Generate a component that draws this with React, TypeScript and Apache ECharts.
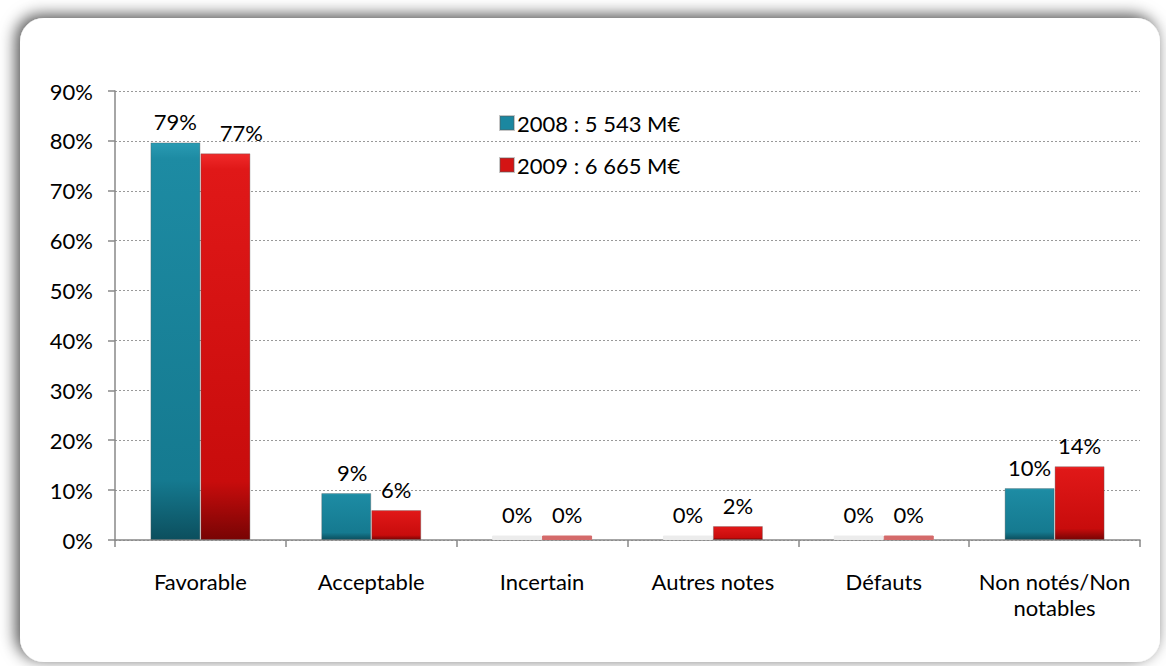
import React, { useEffect, useRef } from "react";
import * as echarts from "echarts";

const categories = ["Favorable", "Acceptable", "Incertain", "Autres notes", "Défauts", "Non notés/Non\nnotables"];
const seriesNames = ["2008 : 5 543 M€", "2009 : 6 665 M€"];
const values2008 = [79.7, 9.4, 0.9, 0.9, 0.9, 10.4];
const values2009 = [77.5, 6.0, 0.9, 2.8, 0.9, 14.8];
const labels2008 = ["79%", "9%", "0%", "0%", "0%", "10%"];
const labels2009 = ["77%", "6%", "0%", "2%", "0%", "14%"];
const zeroFlags2008 = [false, false, true, true, true, false];
const zeroFlags2009 = [false, false, true, false, true, false];
const yTicks = [0, 10, 20, 30, 40, 50, 60, 70, 80, 90];

const FONT = "Lato";
const FS = 22;

function tealGrad() {
  return new echarts.graphic.LinearGradient(0, 0, 0, 1, [
    { offset: 0, color: "#2a9bb3" },
    { offset: 0.04, color: "#1d8ba3" },
    { offset: 0.85, color: "#157a90" },
    { offset: 1, color: "#0c4f5e" },
  ]);
}
function redGrad() {
  return new echarts.graphic.LinearGradient(0, 0, 0, 1, [
    { offset: 0, color: "#f02a2a" },
    { offset: 0.04, color: "#e01818" },
    { offset: 0.85, color: "#c80c0c" },
    { offset: 1, color: "#780404" },
  ]);
}

export default function App() {
  const ref = useRef<HTMLDivElement>(null);
  useEffect(() => {
    if (!ref.current) return;
    const chart = echarts.init(ref.current, null, { renderer: "svg" });
    const mk = (
      vals: number[],
      labels: string[],
      zeros: boolean[],
      grad: () => any,
      zeroColor: string,
      shifts: Record<number, number>
    ) =>
      vals.map((v, i) => ({
        value: v,
        label: { formatter: labels[i], offset: [shifts[i] || 0, 0] },
        itemStyle: zeros[i] ? { color: zeroColor, borderColor: zeroColor } : { color: grad() },
      }));
    chart.setOption({
      animation: false,
      graphic: [
        {
          type: "rect",
          z: -10,
          shape: { x: 20, y: 18, width: 1140, height: 644, r: 24 },
          style: {
            fill: "#ffffff",
            shadowColor: "rgba(0,0,0,0.7)",
            shadowBlur: 16,
            shadowOffsetX: -4,
            shadowOffsetY: -3,
          },
          silent: true,
        },
      ],
      legend: {
        orient: "vertical",
        left: 494,
        top: 107,
        itemWidth: 14,
        itemHeight: 14,
        itemGap: 20,
        icon: "rect",
        textStyle: { fontFamily: FONT, fontSize: FS, color: "#000", padding: [0, 0, 0, -2] },
        data: seriesNames,
      },
      grid: { left: 115, right: 26, top: 91, bottom: 126 },
      xAxis: {
        type: "category",
        data: categories,
        axisLine: { lineStyle: { color: "#888", width: 1.5 } },
        axisTick: { show: true, interval: 0, length: 7, lineStyle: { color: "#888", width: 1.5 } },
        axisLabel: {
          interval: 0,
          hideOverlap: false,
          fontFamily: FONT,
          fontSize: FS,
          color: "#000",
          margin: 28,
          lineHeight: 26,
        },
      },
      yAxis: {
        type: "value",
        min: 0,
        max: 90,
        interval: 10,
        axisLine: { show: true, lineStyle: { color: "#888", width: 1.5 } },
        axisTick: { show: true, length: 7, lineStyle: { color: "#888", width: 1.5 } },
        axisLabel: {
          fontFamily: FONT,
          fontSize: FS,
          color: "#000",
          margin: 22,
          formatter: (v: number) => (yTicks.includes(v) ? v + "%" : ""),
        },
        splitLine: { show: true, lineStyle: { color: "#999", type: [2, 2], width: 1 } },
      },
      series: [
        {
          name: seriesNames[0],
          type: "bar",
          barWidth: 50,
          barGap: "0%",
          itemStyle: { color: "#1b87a0", borderColor: "rgba(90,90,90,0.35)", borderWidth: 1 },
          label: { show: true, position: "top", distance: 10, fontFamily: FONT, fontSize: FS, color: "#000" },
          data: mk(values2008, labels2008, zeroFlags2008, tealGrad, "#ececec", { 1: 6 }),
        },
        {
          name: seriesNames[1],
          type: "bar",
          barWidth: 50,
          barGap: "0%",
          itemStyle: { color: "#d41414", borderColor: "rgba(90,90,90,0.35)", borderWidth: 1 },
          label: { show: true, position: "top", distance: 10, fontFamily: FONT, fontSize: FS, color: "#000" },
          data: mk(values2009, labels2009, zeroFlags2009, redGrad, "#d46a6a", { 0: 16 }),
        },
      ],
    });
    return () => chart.dispose();
  }, []);
  return (
    <div
      ref={ref}
      style={{ position: "absolute", left: 0, top: 0, width: 1166, height: 666, background: "#fff" }}
    />
  );
}
